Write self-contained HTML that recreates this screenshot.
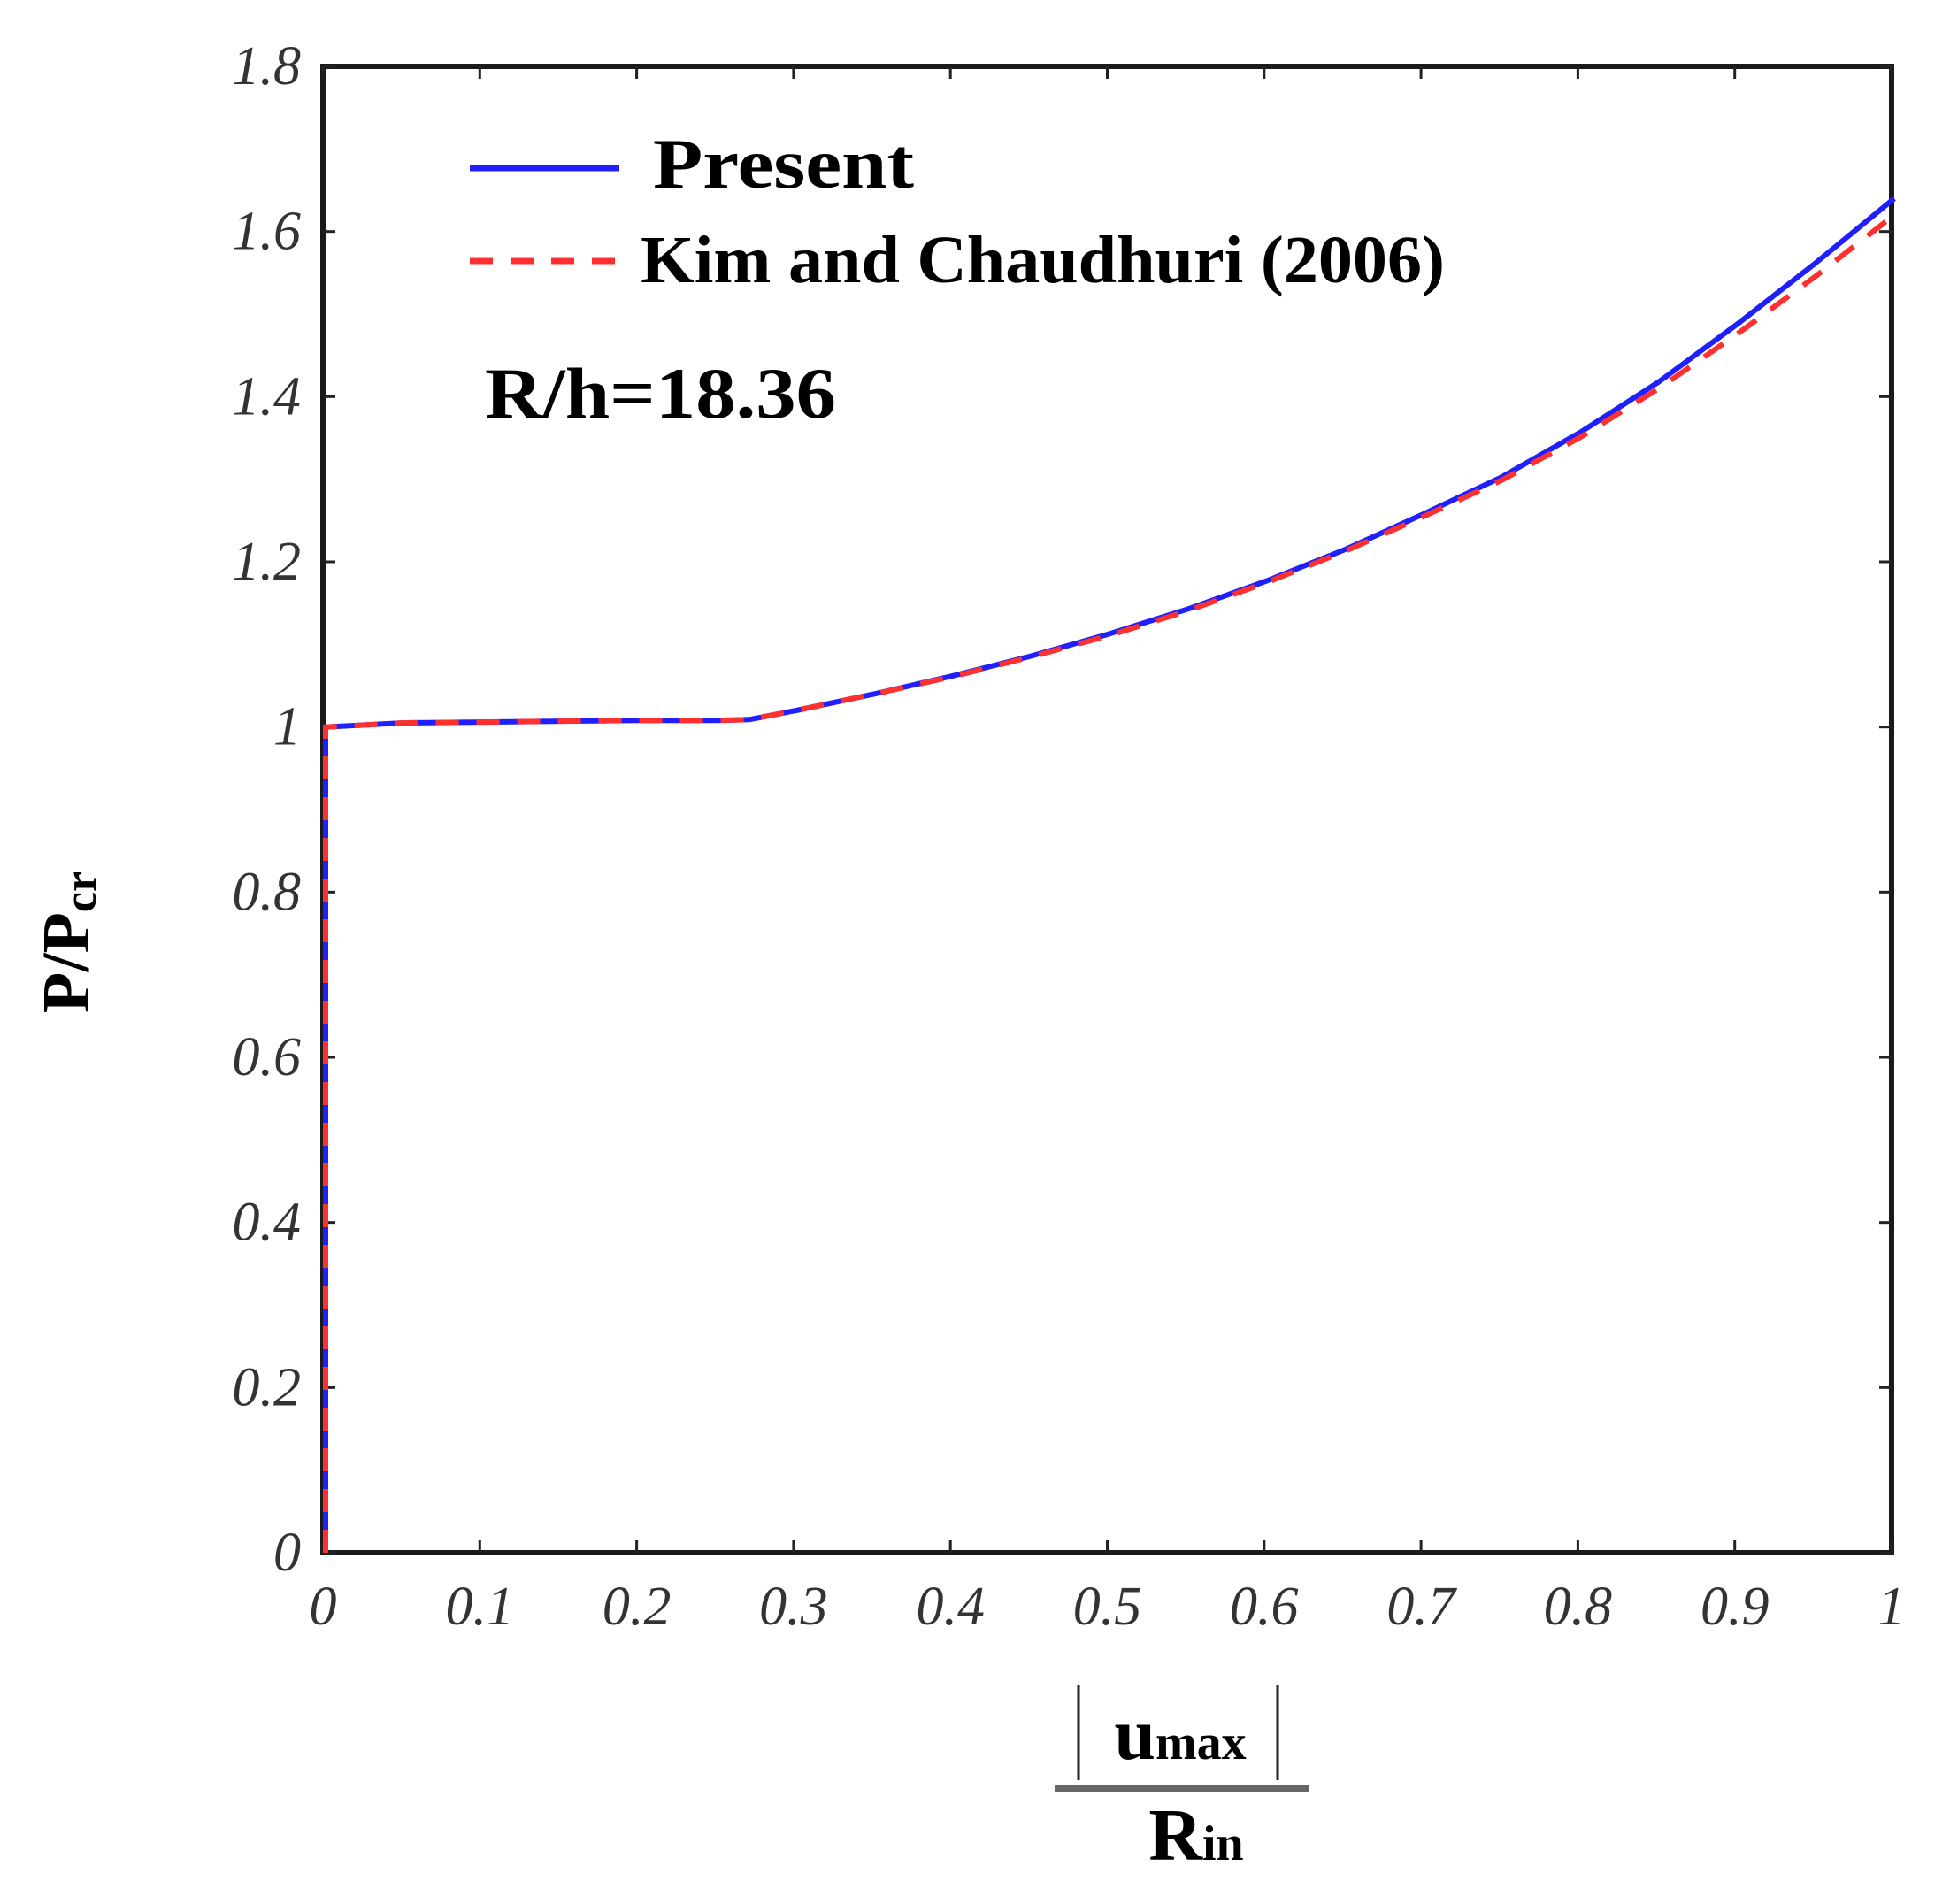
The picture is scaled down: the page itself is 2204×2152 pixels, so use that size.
<!DOCTYPE html>
<html><head><meta charset="utf-8"><style>
html,body{margin:0;padding:0;background:#fff;}
svg{display:block;}
</style></head><body>
<svg id="chart" width="2204" height="2152" viewBox="0 0 2204 2152" xmlns="http://www.w3.org/2000/svg">
<g id="axes"></g>
<g id="plot"></g>
<g>
  <line x1="531" y1="190" x2="700" y2="190" stroke="#2020ff" stroke-width="7"/>
  <text x="738" y="212" font-family="Liberation Serif, serif" font-weight="bold" font-size="80" textLength="295" lengthAdjust="spacingAndGlyphs">Present</text>
  <line x1="531" y1="295" x2="700" y2="295" stroke="#ff3030" stroke-width="7" stroke-dasharray="26,20"/>
  <text x="724" y="319" font-family="Liberation Serif, serif" font-weight="bold" font-size="76" textLength="909" lengthAdjust="spacingAndGlyphs">Kim and Chaudhuri (2006)</text>
</g>
<text x="548" y="472" font-family="Liberation Serif, serif" font-weight="bold" font-size="82" textLength="397" lengthAdjust="spacingAndGlyphs">R/h=18.36</text>
<text transform="translate(100,1065) rotate(-90)" text-anchor="middle" font-family="Liberation Serif, serif" font-weight="bold" font-size="76">P/P<tspan font-size="52" dy="8">cr</tspan></text>
<g font-family="Liberation Serif, serif" font-weight="bold">
  <line x1="1219" y1="1905" x2="1219" y2="2012" stroke="#222" stroke-width="3"/>
  <line x1="1444" y1="1905" x2="1444" y2="2012" stroke="#222" stroke-width="3"/>
  <text x="1334" y="1988" text-anchor="middle" font-size="84">u<tspan font-size="56">max</tspan></text>
  <line x1="1192" y1="2021" x2="1479" y2="2021" stroke="#666" stroke-width="8"/>
  <text x="1352" y="2102" text-anchor="middle" font-size="84">R<tspan font-size="56">in</tspan></text>
</g>
</svg>
<script>
const xs = [0, 0, 0.05, 0.1, 0.15, 0.2, 0.25, 0.27, 0.3, 0.35, 0.4, 0.45, 0.5, 0.55, 0.6, 0.65, 0.7, 0.75, 0.8, 0.85, 0.9, 0.95, 1.0];
const presentVals = [0, 1.0, 1.005, 1.006, 1.007, 1.008, 1.008, 1.009, 1.02, 1.04, 1.062, 1.086, 1.113, 1.143, 1.177, 1.215, 1.258, 1.303, 1.357, 1.418, 1.488, 1.562, 1.64];
const kimVals = [0, 1.0, 1.005, 1.006, 1.007, 1.008, 1.008, 1.009, 1.02, 1.04, 1.061, 1.085, 1.111, 1.141, 1.175, 1.213, 1.255, 1.299, 1.351, 1.41, 1.476, 1.546, 1.62];
const xTicks = [0,0.1,0.2,0.3,0.4,0.5,0.6,0.7,0.8,0.9,1];
const xTickLabels = ["0","0.1","0.2","0.3","0.4","0.5","0.6","0.7","0.8","0.9","1"];
const yTicks = [0,0.2,0.4,0.6,0.8,1,1.2,1.4,1.6,1.8];
const yTickLabels = ["0","0.2","0.4","0.6","0.8","1","1.2","1.4","1.6","1.8"];

const L=365,R=2138,T=75,B=1755;
const sx=v=>L+(v-0)/(1-0)*(R-L);
const sy=v=>B-(v-0)/(1.8-0)*(B-T);
const NS="http://www.w3.org/2000/svg";
function mk(tag,attrs,parent){const e=document.createElementNS(NS,tag);for(const k in attrs)e.setAttribute(k,attrs[k]);parent.appendChild(e);return e;}
const plot=document.getElementById('plot'), axes=document.getElementById('axes');

function pathFor(vals){return xs.map((x,i)=>(i?'L':'M')+(sx(x)+3).toFixed(1)+','+sy(vals[i]).toFixed(1)).join(' ');}
const p1=mk('path',{d:pathFor(presentVals),fill:'none',stroke:'#2020ff','stroke-width':6,'stroke-linejoin':'round'},plot);


const p2=mk('path',{d:pathFor(kimVals),fill:'none',stroke:'#ff3030','stroke-width':6,'stroke-dasharray':'26,20'},plot);



const frame=mk('rect',{x:L,y:T,width:R-L,height:B-T,fill:'none',stroke:'#1a1a1a','stroke-width':6},axes);



xTicks.forEach((v,i)=>{
  const x=sx(v);
  mk('line',{x1:x,y1:B,x2:x,y2:B-14,stroke:'#222','stroke-width':3},axes);
  mk('line',{x1:x,y1:T,x2:x,y2:T+14,stroke:'#222','stroke-width':3},axes);
  const t=mk('text',{x:x,y:1836,'text-anchor':'middle','font-family':'Liberation Serif, serif','font-style':'italic','font-size':62,fill:'#333'},axes);
  t.textContent=xTickLabels[i];
  
  
});
yTicks.forEach((v,i)=>{
  const y=sy(v);
  mk('line',{x1:L,y1:y,x2:L+14,y2:y,stroke:'#222','stroke-width':3},axes);
  mk('line',{x1:R,y1:y,x2:R-14,y2:y,stroke:'#222','stroke-width':3},axes);
  const t=mk('text',{x:340,y:y+20,'text-anchor':'end','font-family':'Liberation Serif, serif','font-style':'italic','font-size':62,fill:'#333'},axes);
  t.textContent=yTickLabels[i];
  
  
});
</script>
</body></html>
